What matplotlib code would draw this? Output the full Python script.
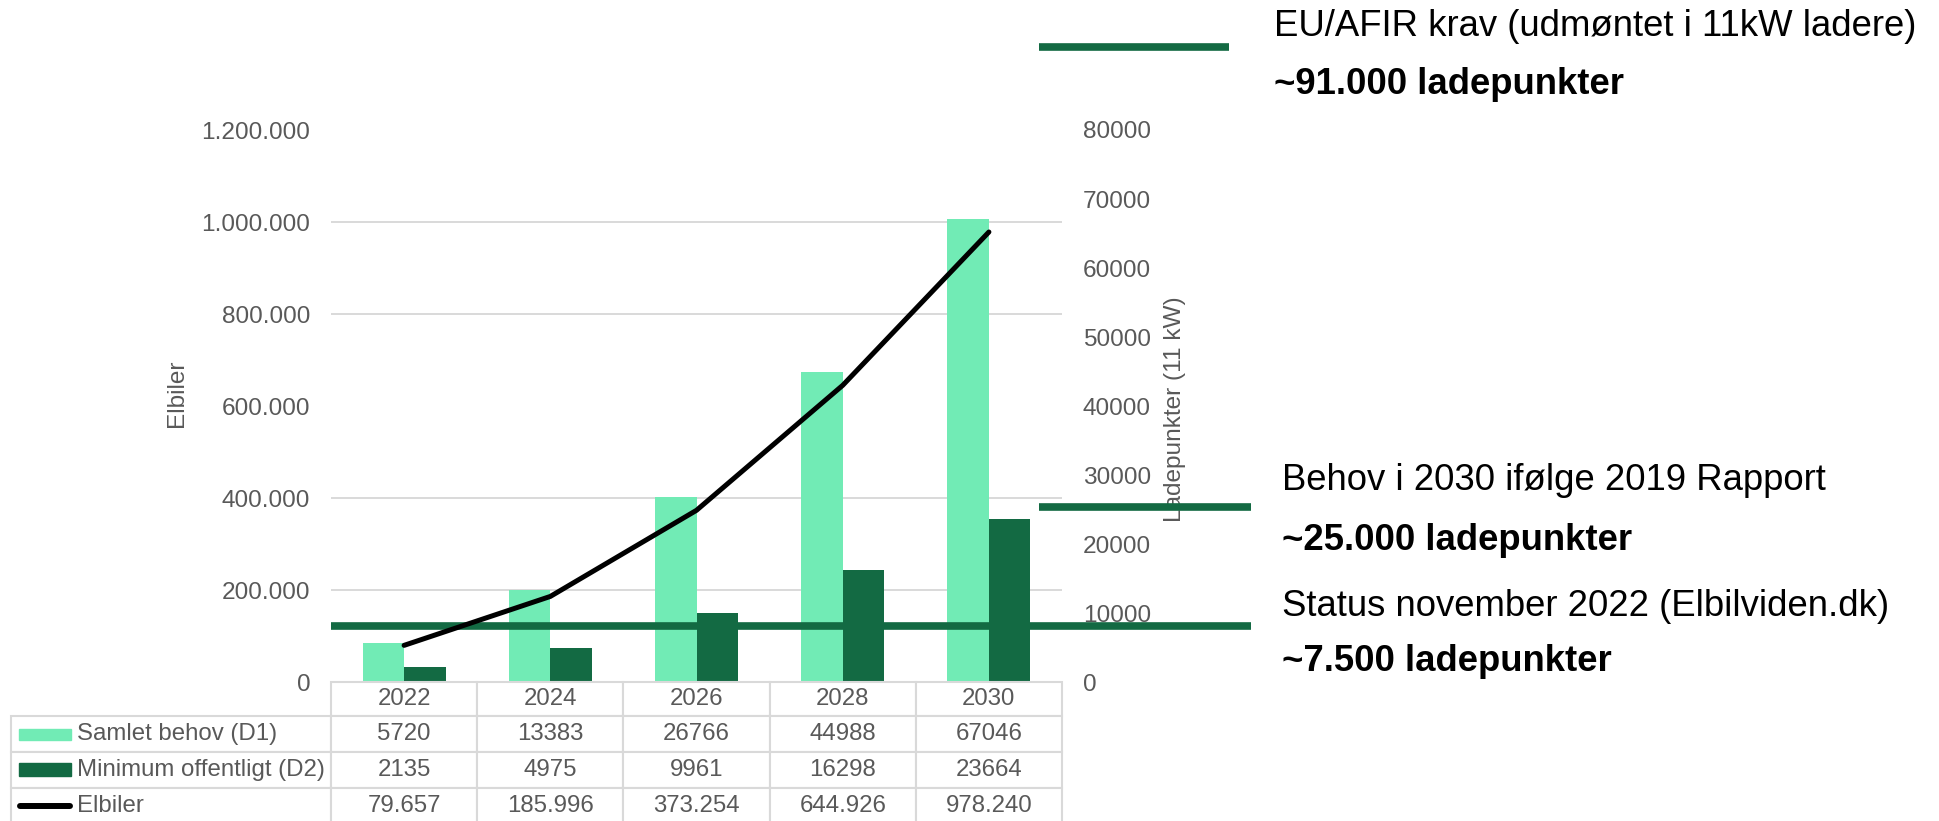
import matplotlib
matplotlib.use("Agg")
import matplotlib.pyplot as plt
from matplotlib.ticker import FuncFormatter
from matplotlib.table import Table
from matplotlib.patches import Rectangle
from matplotlib.lines import Line2D
import numpy as np

plt.rcParams['font.family'] = ['Liberation Sans', 'DejaVu Sans']

# data
years = ['2022', '2024', '2026', '2028', '2030']
samlet_behov = [5720, 13383, 26766, 44988, 67046]
minimum_offentligt = [2135, 4975, 9961, 16298, 23664]
elbiler = [79657, 185996, 373254, 644926, 978240]
series_names = ['Samlet behov (D1)', 'Minimum offentligt (D2)', 'Elbiler']

# reference levels as drawn (right axis units)
ref_levels = [92000, 25400, 8100]
ref_titles = ['EU/AFIR krav (udmøntet i 11kW ladere)',
              'Behov i 2030 ifølge 2019 Rapport',
              'Status november 2022 (Elbilviden.dk)']
ref_counts = ['~91.000 ladepunkter', '~25.000 ladepunkter', '~7.500 ladepunkter']

light = '#71EBB5'
dark = '#136A43'
grey = '#595959'
gridc = '#D9D9D9'

W, H = 1939, 821
fig = plt.figure(figsize=(W / 100, H / 100), dpi=100)

def fx(px):
    return px / W

def fy(py):
    return 1 - py / H

ax_l, ax_r, ax_t, ax_b = 331, 1062, 130, 682
ax = fig.add_axes([fx(ax_l), fy(ax_b), (ax_r - ax_l) / W, (ax_b - ax_t) / H])
ax2 = ax.twinx()
ax.set_zorder(ax2.get_zorder() + 1)
ax.patch.set_visible(False)

x = np.arange(len(years))
w = 0.284
ax2.bar(x - w / 2, samlet_behov, w, color=light, zorder=2)
ax2.bar(x + w / 2, minimum_offentligt, w, color=dark, zorder=2)
ax.plot(x, elbiler, color='black', lw=3.6, solid_capstyle='round', zorder=5)

ax.set_xlim(-0.5, len(years) - 0.5)
ax.set_ylim(0, 1200000)
ax2.set_ylim(0, 80000)
ax.set_yticks(np.arange(0, 1200001, 200000))
ax.yaxis.set_major_formatter(FuncFormatter(lambda v, p: f'{int(v):,}'.replace(',', '.')))
ax2.set_yticks(np.arange(0, 80001, 10000))

# grid lines follow the left axis steps, drawn behind the bars
ax2.set_yticks(np.linspace(0, 80000, 7), minor=True)
ax2.grid(True, which='minor', axis='y', color=gridc, lw=1.4, zorder=0)
ax2.grid(False, which='major')
ax2.set_axisbelow(True)

for a in (ax, ax2):
    for s in a.spines.values():
        s.set_visible(False)
    a.tick_params(axis='x', bottom=False, labelbottom=False)
    a.tick_params(axis='y', which='both', length=0, pad=15, labelsize=17.6, labelcolor=grey)

ax.set_ylabel('Elbiler', fontsize=17.6, color=grey)
ax.yaxis.set_label_coords(-0.2107, 0.524)
ax.yaxis.label.set_va('center')
ax2.set_ylabel('Ladepunkter (11 kW)', fontsize=17.6, color=grey, rotation=90)
ax2.yaxis.set_label_coords(1.1546, 0.4946)
ax2.yaxis.label.set_va('center')

# reference lines
ref_x = [(1039, 1229), (1039, 1251), (331, 1251)]
for lvl, (x0, x1) in zip(ref_levels, ref_x):
    ax2.axhline(lvl, xmin=(x0 - ax_l) / (ax_r - ax_l), xmax=(x1 - ax_l) / (ax_r - ax_l),
                color=dark, lw=5.5, solid_capstyle='butt', clip_on=False, zorder=4)

# annotations
title_base = [36, 490, 616]
count_base = [94, 550, 671]
text_x = [1274, 1282, 1282]
for t, c, tb_, cb_, tx in zip(ref_titles, ref_counts, title_base, count_base, text_x):
    fig.text(fx(tx), fy(tb_), t, fontsize=26.3, va='baseline', ha='left', color='black')
    fig.text(fx(tx), fy(cb_), c, fontsize=26.3, va='baseline', ha='left',
             color='black', fontweight='bold')

# data table below the plot
leg_w, col_w = 320, (ax_r - ax_l) / len(years)
row_h = [34, 36, 36, 36]
tab_left, tab_top = 11, ax_b
tab_w = leg_w + col_w * len(years)
tab_h = sum(row_h)
tbl = Table(ax, bbox=[(tab_left - ax_l) / (ax_r - ax_l), -tab_h / (ax_b - ax_t),
                      tab_w / (ax_r - ax_l), tab_h / (ax_b - ax_t)])

fmt_cars = [f'{v:,}'.replace(',', '.') for v in elbiler]
rows = [[str(v) for v in samlet_behov], [str(v) for v in minimum_offentligt], fmt_cars]

c = tbl.add_cell(0, 0, width=leg_w, height=row_h[0], text='', facecolor='none')
c.visible_edges = ''
for j, yr in enumerate(years):
    tbl.add_cell(0, j + 1, width=col_w, height=row_h[0], text=yr, loc='center',
                 edgecolor=gridc, facecolor='white')
for i, name in enumerate(series_names):
    c = tbl.add_cell(i + 1, 0, width=leg_w, height=row_h[i + 1], text=name, loc='left',
                     edgecolor=gridc, facecolor='white')
    c.PAD = (77 - tab_left) / leg_w
    for j, val in enumerate(rows[i]):
        tbl.add_cell(i + 1, j + 1, width=col_w, height=row_h[i + 1], text=val, loc='center',
                     edgecolor=gridc, facecolor='white')
tbl.auto_set_font_size(False)
tbl.set_fontsize(17.3)
for cell in tbl.get_celld().values():
    cell.set_linewidth(1.5)
    cell.get_text().set_color(grey)
ax.add_table(tbl)

# legend keys inside the table (drawn above the axes)
fig.add_artist(Rectangle((fx(19), fy(739.5)), fx(71) - fx(19), 11 / H,
                         transform=fig.transFigure, color=light, zorder=20))
fig.add_artist(Rectangle((fx(19), fy(776)), fx(71) - fx(19), 13 / H,
                         transform=fig.transFigure, color=dark, zorder=20))
fig.add_artist(Line2D([fx(20), fx(70)], [fy(806), fy(806)], transform=fig.transFigure,
                      color='black', lw=4.3, solid_capstyle='round', zorder=20))

fig.savefig('out.png', dpi=100, facecolor='white')
